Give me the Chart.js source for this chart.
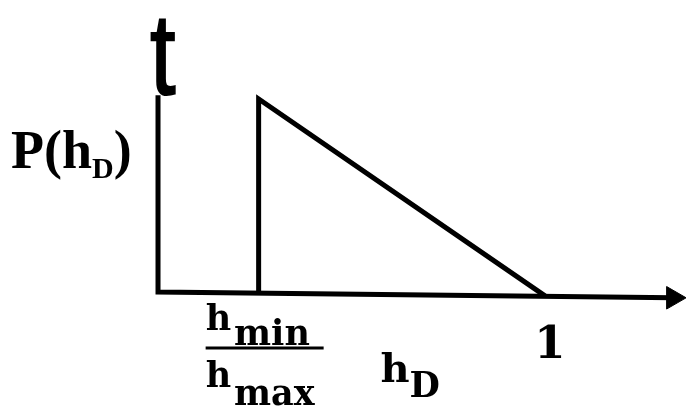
<!DOCTYPE html>
<html>
<head>
<meta charset="utf-8">
<script src="https://cdn.jsdelivr.net/npm/chart.js@4"></script>
<style>
  html, body { margin: 0; padding: 0; background: #fff; }
  canvas { display: block; }
</style>
</head>
<body>
<canvas id="pdfChart" width="686" height="408"></canvas>
<script>
// -----------------------
// P(hD) distribution sketch
// -----------------------
const hRatio = 0.26;                 // h_min / h_max
const densityX = [hRatio, hRatio, 1];
const densityY = [0, 1, -0.02];
const axisX = [0, 0, 1.331];
const axisY = [1.02, 0, -0.03];
const tickLabels = ["1"];
const tickValues = [1];

// helper: draw a row of text pieces (for subscripts)
function drawRuns(ctx, x, y, runs, family) {
    runs.forEach(r => {
        ctx.font = (r.weight || "bold") + " " + r.size + "px " + family;
        ctx.fillText(r.t, x, y + (r.dy || 0));
        x += ctx.measureText(r.t).width + (r.gap || 0);
    });
    return x;
}

const labelPlugin = {
    id: "sketchLabels",
    afterDraw(chart) {
        const ctx = chart.ctx;
        const px = v => chart.scales.x.getPixelForValue(v);
        const py = v => chart.scales.y.getPixelForValue(v);
        const serif = "'DejaVu Serif'";
        ctx.save();
        ctx.fillStyle = "#000";
        ctx.textBaseline = "alphabetic";
        ctx.textAlign = "left";

        // "t" sitting on top of the vertical axis
        ctx.save();
        ctx.translate(px(0) - 8, py(axisY[0]) - 1);
        ctx.scale(0.8, 1);
        ctx.font = "115px 'Liberation Sans'";
        ctx.fillText("t", 0, 0);
        ctx.lineWidth = 2;
        ctx.strokeText("t", 0, 0);
        ctx.restore();

        // y label
        drawRuns(ctx, 11, py(0.64), [
            { t: "P(h", size: 54 },
            { t: "D", size: 30, dy: 10 },
            { t: ")", size: 54 }
        ], "'Liberation Serif'");

        // h_min / h_max under the step
        const fx = px(hRatio) - 53;
        drawRuns(ctx, fx, 330, [
            { t: "h", size: 35, gap: 3 },
            { t: "min", size: 35, dy: 15 }
        ], serif);
        ctx.fillRect(fx, 346.5, 118, 3);
        drawRuns(ctx, fx, 387, [
            { t: "h", size: 35, gap: 3 },
            { t: "max", size: 35, dy: 18 }
        ], serif);

        // x label
        drawRuns(ctx, px(0.575), 382, [
            { t: "h", size: 40 },
            { t: "D", size: 35, dy: 15 }
        ], serif);

        // tick labels
        ctx.textAlign = "center";
        ctx.font = "bold 45px " + serif;
        tickValues.forEach((v, i) => ctx.fillText(tickLabels[i], px(v) + 5, 358));
        ctx.restore();
    }
};

(function () {
    const ctx = document.getElementById("pdfChart");
    if (!ctx) return;

    new Chart(ctx.getContext("2d"), {
        type: "scatter",
        data: {
            datasets: [
                {
                    label: "axes",
                    data: axisX.map((x, i) => ({ x: x, y: axisY[i] })),
                    showLine: true,
                    borderColor: "#000",
                    borderWidth: 5,
                    borderJoinStyle: "miter",
                    pointRadius: [0, 0, 13],
                    pointStyle: "triangle",
                    pointRotation: 90,
                    pointBackgroundColor: "#000",
                    pointBorderColor: "#000",
                    pointBorderWidth: 1,
                    clip: false
                },
                {
                    label: "P(hD)",
                    data: densityX.map((x, i) => ({ x: x, y: densityY[i] })),
                    showLine: true,
                    borderColor: "#000",
                    borderWidth: 5,
                    borderJoinStyle: "miter",
                    pointRadius: 0,
                    clip: false
                }
            ]
        },
        options: {
            responsive: false,
            animation: false,
            events: [],
            layout: { padding: 0, autoPadding: false },
            plugins: {
                legend: { display: false },
                tooltip: { enabled: false }
            },
            scales: {
                x: { type: "linear", display: false, min: -0.4083, max: 1.3643 },
                y: { type: "linear", display: false, min: -0.601, max: 1.513 }
            }
        },
        plugins: [labelPlugin]
    });
})();
</script>
</body>
</html>
